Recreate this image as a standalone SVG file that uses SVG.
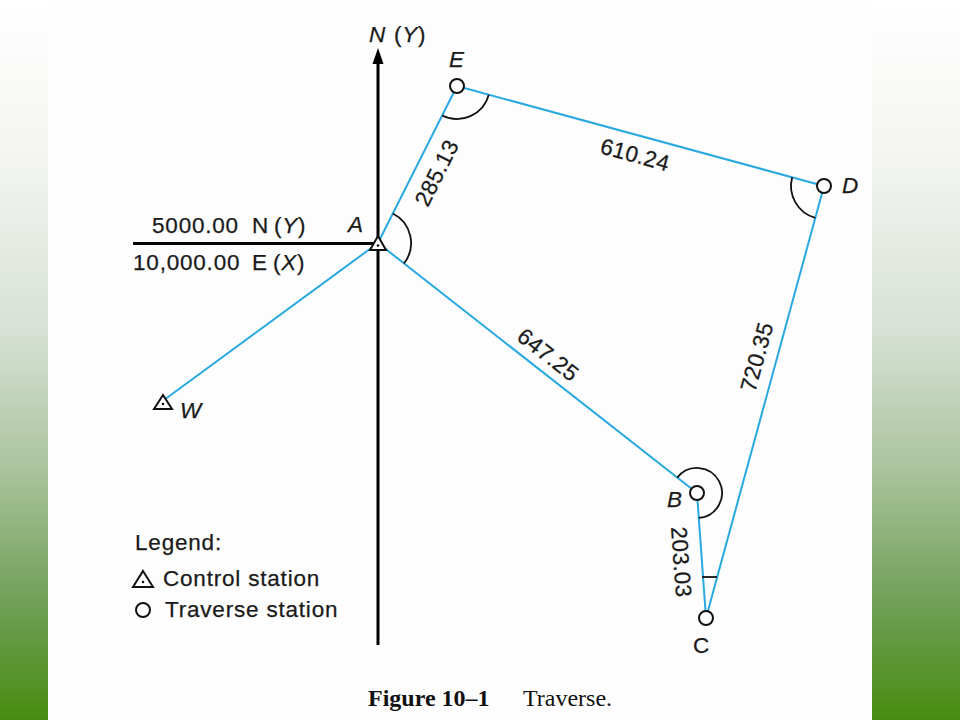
<svg xmlns="http://www.w3.org/2000/svg" width="960" height="720" viewBox="0 0 960 720">
<defs>
<linearGradient id="bg" x1="0" y1="0" x2="0" y2="1">
<stop offset="0" stop-color="#ffffff"/>
<stop offset="0.2" stop-color="#f5f6f3"/>
<stop offset="0.45" stop-color="#d9e2d7"/>
<stop offset="0.65" stop-color="#aac49e"/>
<stop offset="0.85" stop-color="#6d9d52"/>
<stop offset="1" stop-color="#478c10"/>
</linearGradient>
</defs>
<style>
.t{font-family:"Liberation Sans",Arial,sans-serif;font-size:22.5px;fill:#1a1a1a;stroke:#1a1a1a;stroke-width:0.25px;letter-spacing:0.8px}
.i{font-style:italic}
.lbl{font-family:"Liberation Sans",Arial,sans-serif;font-size:22.5px;fill:#1a1a1a;stroke:#1a1a1a;stroke-width:0.25px;text-anchor:middle;dominant-baseline:central;letter-spacing:0.3px}
.leg{stroke:#29a9e1;stroke-width:2;fill:none}
.arc{stroke:#111;stroke-width:1.8;fill:none}
.st{fill:#fff;stroke:#111;stroke-width:2}
.cap{font-family:"Liberation Serif","Times New Roman",serif;font-size:24px;fill:#111}
</style>
<rect x="0" y="0" width="960" height="720" fill="url(#bg)"/>
<rect x="48" y="0" width="824" height="720" fill="#fdfdfd"/>

<g id="axes">
<line x1="378" y1="645" x2="378" y2="62" stroke="#000" stroke-width="3"/>
<path d="M378,48 L383.5,64 L372.5,64 Z" fill="#000"/>
<line x1="133" y1="243.5" x2="378" y2="243.5" stroke="#000" stroke-width="3"/>
<text class="t" x="369" y="42"><tspan class="i">N</tspan><tspan x="394">(</tspan><tspan class="i">Y</tspan>)</text>
<text class="t" x="152" y="233">5000.00<tspan x="252">N</tspan><tspan x="274">(</tspan><tspan class="i">Y</tspan>)</text>
<text class="t" x="133" y="270">10,000.00<tspan x="252">E</tspan><tspan x="273">(</tspan><tspan class="i">X</tspan>)</text>
</g>

<g id="connectors">
<line class="leg" x1="378" y1="243" x2="457" y2="86"/>
<line class="leg" x1="457" y1="86" x2="824" y2="186"/>
<line class="leg" x1="824" y1="186" x2="706" y2="618"/>
<line class="leg" x1="706" y1="618" x2="697" y2="493"/>
<line class="leg" x1="697" y1="493" x2="378" y2="243"/>
<line class="leg" x1="378" y1="243" x2="164" y2="400"/>
<text class="lbl" transform="translate(437,173) rotate(-63.3)">285.13</text>
<text class="lbl" transform="translate(635,155) rotate(15.2)">610.24</text>
<text class="lbl" transform="translate(548,355) rotate(38.1)">647.25</text>
<text class="lbl" transform="translate(757,357) rotate(-74.7)">720.35</text>
<text class="lbl" transform="translate(681,562) rotate(85.9)">203.03</text>
</g>

<g id="angles">
<path class="arc" d="M442.2,115.5 A33,33 0 0 0 488.8,94.7"/>
<path class="arc" d="M792.2,177.3 A33,33 0 0 0 815.3,217.8"/>
<path class="arc" d="M392.8,213.5 A33,33 0 0 1 404,263.4"/>
<path class="arc" d="M677.3,477.6 A25,25 0 1 1 698.8,517.9"/>
<line x1="702" y1="577" x2="717" y2="577" stroke="#111" stroke-width="1.8"/>
</g>

<g id="node-A">
<path class="st" d="M378,236 L386,250 L370,250 Z"/>
<circle cx="378" cy="245.5" r="1.3" fill="#111"/>
<text class="t i" x="348" y="232">A</text>
</g>
<g id="node-W">
<path class="st" d="M163,395 L172,409 L154,409 Z"/>
<circle cx="163" cy="404" r="1.3" fill="#111"/>
<text class="t i" x="180" y="418">W</text>
</g>
<g id="node-E">
<circle class="st" cx="457" cy="86" r="7"/>
<text class="t i" x="449" y="67">E</text>
</g>
<g id="node-D">
<circle class="st" cx="824" cy="186" r="7"/>
<text class="t i" x="842" y="193">D</text>
</g>
<g id="node-B">
<circle class="st" cx="697" cy="493" r="7"/>
<text class="t i" x="667" y="507">B</text>
</g>
<g id="node-C">
<circle class="st" cx="706" cy="618" r="7"/>
<text class="t" x="693" y="653">C</text>
</g>

<g id="legend">
<text class="t" x="135" y="550">Legend:</text>
<path class="st" d="M143,571 L153,587 L133,587 Z"/>
<circle cx="143" cy="582" r="1.3" fill="#111"/>
<text class="t" x="163" y="586">Control station</text>
<circle class="st" cx="143" cy="610" r="7"/>
<text class="t" x="165" y="617">Traverse station</text>
</g>

<g id="caption">
<text class="cap" x="368" y="706"><tspan font-weight="bold">Figure 10–1</tspan><tspan x="523">Traverse.</tspan></text>
</g>
</svg>
